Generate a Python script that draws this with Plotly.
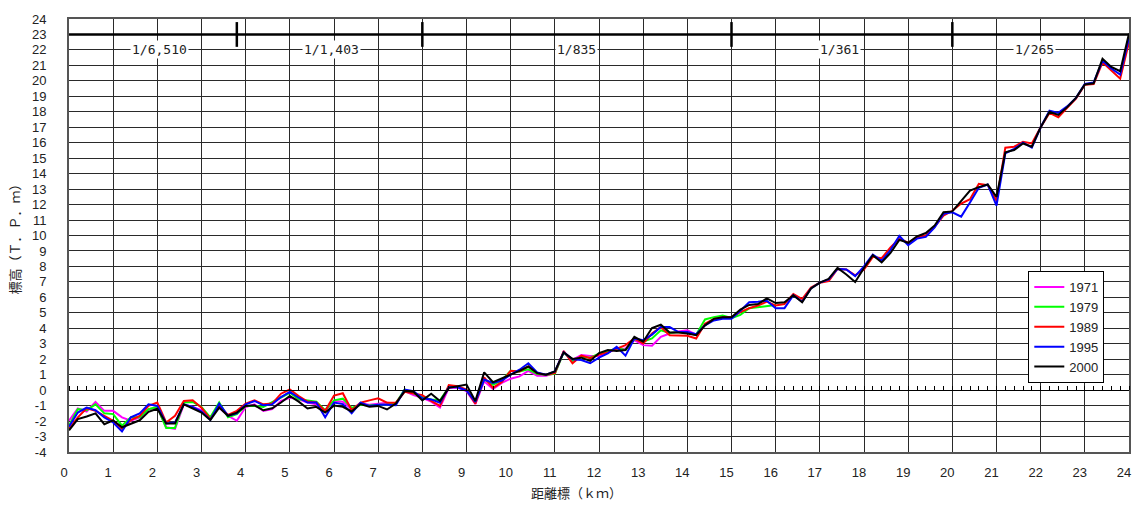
import plotly.graph_objects as go

# Survey stations every 200 m along the river (km)
stations_km = [round(i * 0.2, 1) for i in range(121)]

# Riverbed elevation (T.P. m) per survey year
bed_1971 = [-1.98, -1.19, -1.38, -0.76, -1.34, -1.34, -1.76, -1.98, -1.76, -1.23,
            -1.13, -2.40, -2.50, -0.92, -1.09, -1.30, -1.76, -1.13, -1.66, -1.98,
            -1.09, -0.92, -1.34, -1.23, -0.70, -0.49, -0.59, -0.80, -0.92, -1.34,
            -0.70, -0.75, -1.23, -0.87, -0.95, -0.90, -0.81, -0.87, -0.06, -0.32,
            -0.49, -0.74, -1.13, 0.15, 0.15, -0.06, -0.90, 0.57, 0.08, 0.47,
            0.74, 0.89, 1.25, 0.93, 0.93, 1.10, 2.48, 1.95, 2.27, 2.21,
            2.20, 2.45, 2.65, 2.70, 3.23, 2.91, 2.87, 3.45, 3.66, 3.80,
            3.87, 3.59]

bed_1979 = [-2.30, -1.23, -1.30, -0.92, -1.50, -1.55, -2.30, -1.76, -1.76, -1.23,
            -1.09, -2.44, -2.44, -0.80, -0.76, -1.09, -1.76, -0.80, -1.76, -1.55,
            -1.02, -1.02, -1.09, -0.80, -0.49, -0.17, -0.59, -0.66, -0.74, -1.30,
            -0.66, -0.55, -1.15, -0.95, -1.00, -0.95, -0.95, -0.85, 0.04, -0.20,
            -0.45, -0.60, -0.66, 0.20, 0.20, 0.00, -0.80, 0.70, 0.35, 0.65,
            1.25, 1.20, 1.35, 1.05, 1.00, 1.05, 2.45, 1.90, 2.15, 2.10,
            2.35, 2.50, 2.70, 2.60, 3.30, 3.13, 3.34, 3.87, 3.70, 3.76,
            3.70, 3.59, 4.57, 4.72, 4.83, 4.66, 4.87, 5.30, 5.36, 5.42,
            5.50]

bed_1989 = [-2.50, -1.76, -1.17, -1.34, -1.66, -1.98, -2.50, -1.93, -1.66, -1.02,
            -0.80, -2.09, -1.66, -0.70, -0.66, -1.13, -1.87, -1.02, -1.60, -1.34,
            -0.87, -0.66, -0.92, -0.87, -0.23, 0.04, -0.38, -0.74, -0.80, -1.34,
            -0.35, -0.20, -1.30, -0.81, -0.66, -0.53, -0.81, -0.81, -0.11, -0.23,
            -0.32, -0.70, -1.02, 0.32, 0.25, 0.04, -0.87, 0.83, 0.15, 0.53,
            1.25, 1.21, 1.53, 1.10, 1.00, 1.10, 2.53, 1.74, 2.23, 2.06,
            2.30, 2.44, 2.70, 2.91, 3.34, 3.02, 3.66, 4.08, 3.55, 3.51,
            3.51, 3.34, 4.29, 4.61, 4.72, 4.72, 5.04, 5.30, 5.47, 5.72,
            5.47, 5.57, 6.21, 5.89, 6.63, 6.95, 7.05, 7.84, 7.80, 7.42,
            7.80, 8.62, 8.53, 9.23, 9.80, 9.53, 9.87, 10.00, 10.58, 11.29,
            11.60, 12.07, 12.35, 13.34, 13.26, 12.24, 15.68, 15.74, 16.06, 15.95,
            17.00, 17.93, 17.65, 18.25, 18.85, 19.75, 19.80, 21.20, 20.70, 20.14,
            22.50]

bed_1995 = [-2.36, -1.45, -1.13, -1.30, -1.76, -2.09, -2.67, -1.76, -1.50, -0.92,
            -1.02, -2.15, -2.09, -0.92, -1.09, -1.38, -1.93, -0.87, -1.66, -1.50,
            -0.92, -0.70, -0.98, -0.92, -0.45, -0.11, -0.49, -0.80, -0.80, -1.76,
            -0.80, -0.90, -1.50, -0.81, -1.02, -0.95, -0.95, -0.97, 0.04, -0.06,
            -0.53, -0.60, -0.81, 0.19, 0.19, -0.02, -0.76, 0.68, 0.47, 0.62,
            1.00, 1.32, 1.74, 1.15, 1.00, 1.21, 2.44, 2.00, 1.95, 1.74,
            2.10, 2.38, 2.80, 2.23, 3.34, 3.23, 3.59, 4.08, 4.08, 3.76,
            3.76, 3.61, 4.19, 4.51, 4.61, 4.61, 5.14, 5.68, 5.72, 5.78,
            5.30, 5.30, 6.14, 5.72, 6.57, 6.95, 7.16, 7.84, 7.80, 7.37,
            8.00, 8.77, 8.36, 9.06, 9.97, 9.38, 9.80, 9.91, 10.53, 11.40,
            11.50, 11.22, 12.14, 13.09, 13.30, 11.93, 15.32, 15.60, 16.00, 15.68,
            17.00, 18.08, 17.93, 18.35, 18.90, 19.80, 19.90, 21.30, 20.80, 20.40,
            22.80]

bed_2000 = [-2.60, -1.87, -1.70, -1.50, -2.20, -1.95, -2.40, -2.20, -1.95, -1.40,
            -1.20, -2.15, -2.15, -0.92, -1.17, -1.45, -1.93, -1.13, -1.66, -1.45,
            -1.02, -0.98, -1.30, -1.17, -0.80, -0.38, -0.74, -1.19, -1.08, -1.45,
            -1.00, -1.08, -1.38, -0.90, -1.08, -1.02, -1.25, -0.87, -0.06, -0.11,
            -0.66, -0.23, -0.70, 0.15, 0.25, 0.36, -0.70, 1.15, 0.51, 0.74,
            1.00, 1.25, 1.53, 1.10, 1.00, 1.21, 2.44, 2.02, 2.10, 1.89,
            2.40, 2.60, 2.53, 2.60, 3.45, 3.13, 4.02, 4.23, 3.72, 3.72,
            3.66, 3.55, 4.19, 4.61, 4.72, 4.72, 5.21, 5.51, 5.57, 5.93,
            5.63, 5.68, 6.14, 5.68, 6.57, 6.95, 7.20, 7.90, 7.48, 6.99,
            7.90, 8.72, 8.26, 8.87, 9.72, 9.53, 9.95, 10.16, 10.65, 11.50,
            11.56, 12.20, 12.90, 13.13, 13.30, 12.50, 15.38, 15.53, 15.95, 15.74,
            17.00, 18.00, 17.80, 18.30, 18.90, 19.77, 19.84, 21.43, 20.90, 20.62,
            23.06]

years = ["1971", "1979", "1989", "1995", "2000"]
profiles = [bed_1971, bed_1979, bed_1989, bed_1995, bed_2000]
colors = ["#FF00FF", "#00FF00", "#FF0000", "#0000FF", "#000000"]

# Bed-slope sections: boundaries (km), labels and label positions (km)
slope_breaks = [3.8, 8.0, 15.0, 20.0]
slope_labels = ["1/6,510", "1/1,403", "1/835", "1/361", "1/265"]
slope_label_km = [2.05, 5.95, 11.5, 17.45, 21.85]

x_ticks = list(range(0, 25))
y_ticks = list(range(-4, 25))

FONT = "Arial, Liberation Sans, sans-serif"
MONO = "DejaVu Sans Mono, monospace"
JP_FONT = "Noto Sans CJK JP, sans-serif"
GRID = "#2a2a2a"

fig = go.Figure()
for name, prof, col in zip(years, profiles, colors):
    fig.add_trace(go.Scatter(
        x=stations_km[:len(prof)], y=prof, mode="lines", name=name,
        line=dict(color=col, width=2),
    ))

# carrier trace for the zero-line tick axis
fig.add_trace(go.Scatter(x=[], y=[], xaxis="x2", showlegend=False, hoverinfo="skip"))

shapes = [
    dict(type="line", xref="x", yref="y", x0=0, x1=24, y0=23, y1=23,
         line=dict(color="black", width=2.5)),
]
for b in slope_breaks:
    shapes.append(dict(type="line", xref="x", yref="y", x0=b, x1=b, y0=22.2, y1=23.8,
                       line=dict(color="black", width=2.5)))

annotations = []
for lab, pos in zip(slope_labels, slope_label_km):
    annotations.append(dict(
        x=pos, y=22, xref="x", yref="y", text=lab, showarrow=False,
        xanchor="center", yanchor="middle",
        font=dict(family=MONO, size=13, color="#222"), bgcolor="white",
        borderpad=1,
    ))
annotations.append(dict(
    x=0.479, y=-0.093, xref="paper", yref="paper", text="距離標（ｋｍ）",
    xanchor="center", yanchor="middle",
    showarrow=False, font=dict(family=JP_FONT, size=13, color="#222"),
))
annotations.append(dict(
    x=-0.051, y=0.5, xref="paper", yref="paper", text="標高（Ｔ．Ｐ．ｍ）",
    xanchor="center", yanchor="middle",
    textangle=-90, showarrow=False, font=dict(family=JP_FONT, size=13, color="#222"),
))

fig.update_layout(
    width=1143, height=505,
    margin=dict(l=69, r=13, t=12, b=53),
    paper_bgcolor="white", plot_bgcolor="white",
    showlegend=True,
    legend=dict(
        x=0.905, y=0.418, xanchor="left", yanchor="top",
        bordercolor="black", borderwidth=1, bgcolor="white",
        font=dict(family=FONT, size=13, color="#222"),
        tracegroupgap=0, itemwidth=30,
    ),
    xaxis=dict(
        range=[0, 24], tickmode="array", tickvals=x_ticks,
        ticktext=[str(v) for v in x_ticks],
        showgrid=True, gridcolor=GRID, gridwidth=1.2,
        showline=True, mirror=True, linecolor="#555", linewidth=2,
        ticks="", zeroline=False,
        tickfont=dict(family=FONT, size=13, color="#222"),
        ticklabelshift=-5, ticklabelstandoff=7,
    ),
    xaxis2=dict(
        range=[0, 24], overlaying="x", anchor="free", position=4 / 28,
        side="top", ticks="outside", ticklen=4, tickcolor="black", tickwidth=1,
        tick0=0, dtick=0.2, showticklabels=False, showgrid=False,
        showline=True, linecolor="black", linewidth=1, zeroline=False,
    ),
    yaxis=dict(
        range=[-4, 24], tickmode="array", tickvals=y_ticks,
        ticktext=[str(v) for v in y_ticks],
        showgrid=True, gridcolor=GRID, gridwidth=1.2,
        showline=True, mirror=True, linecolor="#555", linewidth=2,
        ticks="", zeroline=False,
        tickfont=dict(family=FONT, size=13, color="#222"),
        ticklabelstandoff=18,
    ),
    shapes=shapes,
    annotations=annotations,
)

fig.write_html("out.html")
